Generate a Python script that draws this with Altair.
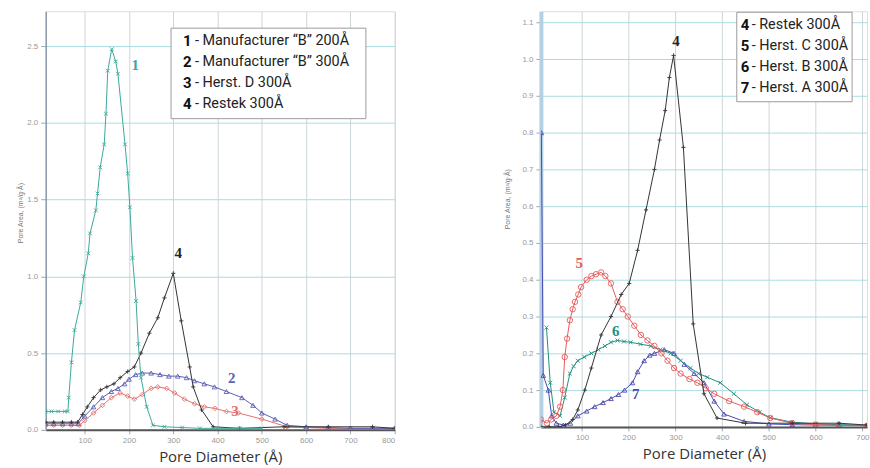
import altair as alt
import pandas as pd

# ---------------- Left panel data (Pore Diameter Å, Pore Area) ----------------
c1_x = [12, 25, 40, 55, 62, 64, 70, 77, 91, 98, 108, 112, 125, 129, 135, 144, 148, 152, 161,
        170, 175, 191, 197, 202, 208, 216, 221, 227, 240, 254, 280, 320, 360, 400, 450, 500]
c1_y = [0.12, 0.12, 0.12, 0.12, 0.12, 0.21, 0.44, 0.65, 0.83, 1.0, 1.15, 1.28, 1.43, 1.54, 1.71,
        1.86, 2.06, 2.34, 2.48, 2.40, 2.32, 1.86, 1.67, 1.45, 1.12, 0.84, 0.56, 0.34, 0.15, 0.03,
        0.02, 0.015, 0.01, 0.01, 0.01, 0.01]

c4L_x = [12, 30, 50, 70, 84, 95, 106, 120, 136, 150, 166, 180, 197, 212, 227, 246, 265, 280,
         300, 318, 337, 345, 364, 390, 450, 550, 650, 750, 800]
c4L_y = [0.05, 0.05, 0.05, 0.05, 0.05, 0.10, 0.15, 0.21, 0.26, 0.28, 0.30, 0.34, 0.38, 0.41,
         0.50, 0.63, 0.73, 0.86, 1.02, 0.71, 0.41, 0.28, 0.13, 0.02, 0.01, 0.02, 0.02, 0.02, 0.01]

c2_x = [12, 30, 50, 70, 85, 100, 120, 140, 160, 175, 190, 200, 215, 230, 250, 270, 290, 310,
        330, 348, 370, 393, 420, 455, 480, 500, 530, 557, 600, 650, 700, 750, 800]
c2_y = [0.04, 0.04, 0.04, 0.04, 0.04, 0.09, 0.15, 0.21, 0.25, 0.27, 0.30, 0.33, 0.36, 0.37,
        0.37, 0.36, 0.35, 0.35, 0.34, 0.32, 0.30, 0.28, 0.25, 0.21, 0.16, 0.11, 0.07, 0.03,
        0.02, 0.015, 0.01, 0.01, 0.01]

c3_x = [12, 30, 50, 70, 88, 100, 120, 140, 160, 180, 197, 212, 230, 250, 265, 285, 303, 325,
        348, 370, 394, 420, 447, 500, 557, 600, 650, 700, 750, 800]
c3_y = [0.03, 0.03, 0.03, 0.03, 0.03, 0.06, 0.11, 0.16, 0.21, 0.24, 0.22, 0.20, 0.23, 0.27,
        0.28, 0.27, 0.24, 0.20, 0.17, 0.15, 0.14, 0.12, 0.11, 0.07, 0.02, 0.015, 0.01, 0.01,
        0.01, 0.01]

# ---------------- Right panel data ----------------
c4R_x = [12, 30, 50, 65, 80, 91, 106, 120, 141, 162, 184, 201, 219, 237, 255, 266, 278, 287,
         296, 317, 338, 361, 389, 450, 550, 650, 710]
c4R_y = [0.0, 0.0, 0.0, 0.005, 0.02, 0.046, 0.10, 0.16, 0.25, 0.30, 0.36, 0.39, 0.48, 0.59,
         0.70, 0.78, 0.86, 0.95, 1.01, 0.76, 0.28, 0.09, 0.024, 0.01, 0.01, 0.01, 0.005]

c5_x = [12, 25, 34, 45, 53, 59, 63, 68, 74, 80, 85, 92, 98, 110, 120, 130, 141, 150, 162, 176,
        187, 198, 212, 226, 240, 255, 270, 283, 297, 311, 330, 347, 365, 383, 415, 447, 475,
        503, 550, 600, 650, 710]
c5_y = [0.02, 0.01, 0.02, 0.03, 0.055, 0.10, 0.19, 0.24, 0.29, 0.32, 0.34, 0.36, 0.38, 0.40,
        0.41, 0.415, 0.42, 0.41, 0.39, 0.34, 0.32, 0.30, 0.275, 0.25, 0.235, 0.22, 0.20, 0.18,
        0.16, 0.145, 0.13, 0.12, 0.105, 0.09, 0.07, 0.055, 0.04, 0.024, 0.01, 0.006, 0.004,
        0.003]

c6_x = [24, 32, 40, 53, 63, 74, 82, 91, 105, 120, 135, 149, 162, 176, 190, 204, 225, 247, 268,
        290, 311, 332, 350, 368, 396, 425, 453, 480, 503, 549, 600, 650, 710]
c6_y = [0.27, 0.12, 0.04, 0.03, 0.08, 0.145, 0.165, 0.18, 0.19, 0.20, 0.21, 0.22, 0.23, 0.235,
        0.232, 0.23, 0.225, 0.22, 0.21, 0.20, 0.18, 0.16, 0.145, 0.135, 0.12, 0.09, 0.06, 0.04,
        0.025, 0.013, 0.008, 0.006, 0.004]

c7_x = [13, 17, 28, 35, 45, 60, 75, 91, 110, 127, 145, 162, 178, 191, 208, 219, 233, 245, 255,
        276, 297, 319, 340, 361, 383, 404, 447, 500, 550, 600, 650, 710]
c7_y = [0.80, 0.14, 0.10, 0.03, 0.01, 0.005, 0.01, 0.03, 0.043, 0.055, 0.066, 0.077, 0.088,
        0.10, 0.12, 0.15, 0.18, 0.195, 0.20, 0.21, 0.20, 0.17, 0.145, 0.12, 0.07, 0.035, 0.015,
        0.008, 0.006, 0.005, 0.005, 0.004]

# curve labels
left_lab_text = ["1", "4", "2", "3"]
left_lab_x = [214, 311, 432, 439]
left_lab_y = [2.38, 1.15, 0.34, 0.12]
left_lab_col = ["#3aa89c", "#222222", "#5b5fb5", "#e8706a"]

right_lab_text = ["4", "5", "6", "7"]
right_lab_x = [301, 94, 172, 215]
right_lab_y = [1.05, 0.446, 0.26, 0.09]
right_lab_col = ["#222222", "#e85a5a", "#1e9080", "#4a4ab0"]

# legends
left_leg_num = ["1", "2", "3", "4"]
left_leg_txt = ["- Manufacturer \u201cB\u201d 200Å", "- Manufacturer \u201cB\u201d 300Å",
                "- Herst. D 300Å", "- Restek 300Å"]
right_leg_num = ["4", "5", "6", "7"]
right_leg_txt = ["- Restek 300Å", "- Herst. C 300Å", "- Herst. B 300Å", "- Herst. A 300Å"]

XTITLE = "Pore Diameter (Å)"
YTITLE = "Pore Area, (m²/g·Å)"
LEGFONT = "Roboto"

XPATH = "M-1,-1L1,1M-1,1L1,-1"
PLUS = "M-1,0L1,0M0,-1L0,1"


def make_encs(xdom, xvals, ydom, yvals, ydomcolor, ydomwidth):
    X = alt.X("d:Q", title=XTITLE,
              scale=alt.Scale(domain=xdom, nice=False, zero=False),
              axis=alt.Axis(values=xvals, grid=True, gridColor="#cdd7db", gridWidth=1,
                            labelFontSize=8, labelColor="#999999", labelPadding=3,
                            tickColor="#9aa", tickSize=4, domainColor="#555555",
                            domainWidth=2, titleFontSize=15, titleFont="Open Sans",
                            titleFontWeight="normal", titleColor="#333333",
                            titlePadding=5, labelFont="Arial"))
    Y = alt.Y("a:Q", title=None,
              scale=alt.Scale(domain=ydom, nice=False, zero=True),
              axis=alt.Axis(values=yvals, format=".1f", grid=True, gridColor="#a9dde2",
                            gridWidth=1, labelFontSize=8, labelColor="#999999",
                            labelPadding=3, tickColor="#9aa", tickSize=5,
                            domainColor=ydomcolor, domainWidth=ydomwidth,
                            minExtent=40, maxExtent=40, labelFont="Arial"))
    return X, Y


def series(X, Y, xs, ys, color, shape, filled=False, size=18, sw=1.0):
    df = pd.DataFrame({"d": xs, "a": ys})
    base = alt.Chart(df)
    line = base.mark_line(color=color, strokeWidth=sw, clip=True).encode(x=X, y=Y)
    pts = base.mark_point(color=color, shape=shape, filled=filled, size=size,
                          strokeWidth=1, opacity=0.9, clip=True).encode(x=X, y=Y)
    return [line, pts]


def labels(X, Y, texts, xs, ys, cols):
    out = []
    for t, x, y, c in zip(texts, xs, ys, cols):
        df = pd.DataFrame({"d": [x], "a": [y], "t": [t]})
        out.append(alt.Chart(df).mark_text(font="Liberation Serif", fontSize=15,
                                           fontWeight="bold", color=c)
                   .encode(x=X, y=Y, text="t:N"))
    return out


def legend(nums, txts, bx, bx2, by, by2, x_num, x_txt, y0, dy):
    out = [alt.Chart(pd.DataFrame({"k": [0]})).mark_rect(
        fill="white", stroke="#9a9a9a", strokeWidth=1).encode(
        x=alt.value(bx), x2=alt.value(bx2), y=alt.value(by), y2=alt.value(by2))]
    for i, (n, t) in enumerate(zip(nums, txts)):
        df = pd.DataFrame({"n": [n], "t": [t]})
        out.append(alt.Chart(df).mark_text(font=LEGFONT, fontSize=15, fontWeight="bold",
                                           align="left", baseline="middle", color="#111")
                   .encode(x=alt.value(x_num), y=alt.value(y0 + i * dy), text="n:N"))
        out.append(alt.Chart(df).mark_text(font=LEGFONT, fontSize=14.5, align="left",
                                           baseline="middle", color="#222")
                   .encode(x=alt.value(x_txt), y=alt.value(y0 + i * dy), text="t:N"))
    return out


def ytitle(xpx, ypx):
    df = pd.DataFrame({"t": [YTITLE]})
    return alt.Chart(df).mark_text(fontSize=7, angle=270, color="#777777", font="Arial",
                                   baseline="middle").encode(
        x=alt.value(xpx), y=alt.value(ypx), text="t:N")


# ---------------- Left panel ----------------
XL, YL = make_encs([12, 800], [100, 200, 300, 400, 500, 600, 700, 800], [0, 2.727],
                   [0.0, 0.5, 1.0, 1.5, 2.0, 2.5], "#8a9aa8", 1.5)
left_layers = []
left_layers += series(XL, YL, c3_x, c3_y, "#e8706a", "diamond", size=22)
left_layers += series(XL, YL, c2_x, c2_y, "#5b5fb5", "triangle-up", size=22)
left_layers += series(XL, YL, c4L_x, c4L_y, "#333333", PLUS, size=18)
left_layers += series(XL, YL, c1_x, c1_y, "#3aa89c", XPATH, size=14)
left_layers += labels(XL, YL, left_lab_text, left_lab_x, left_lab_y, left_lab_col)
left_layers += legend(left_leg_num, left_leg_txt, 126, 322, 17, 108, 138, 150, 30, 21)
left_layers.append(ytitle(-25, 203))
left = alt.layer(*left_layers).properties(width=351, height=421)

# ---------------- Right panel ----------------
XR, YR = make_encs([12, 710], [100, 200, 300, 400, 500, 600, 700], [0, 1.13],
                   [round(0.1 * i, 1) for i in range(12)], "#b4d0e4", 4)
right_layers = []
right_layers += series(XR, YR, c7_x, c7_y, "#4a4ab0", "triangle-up", size=22)
right_layers += series(XR, YR, c6_x, c6_y, "#1e9080", XPATH, size=16)
right_layers += series(XR, YR, c5_x, c5_y, "#e85a5a", "circle", size=30)
right_layers += series(XR, YR, c4R_x, c4R_y, "#333333", PLUS, size=18)
right_layers += labels(XR, YR, right_lab_text, right_lab_x, right_lab_y, right_lab_col)
right_layers += legend(right_leg_num, right_leg_txt, 197, 313, 1, 91, 201, 212, 14, 21)
right_layers.append(ytitle(-33, 189))
right = alt.layer(*right_layers).properties(width=328, height=418)

chart = alt.hconcat(left, right, spacing=147, bounds="flush").properties(
    padding={"left": 5, "top": 9, "right": 0, "bottom": 0}
).configure_view(stroke=None).configure(background="white")

chart.save("out.html", embed_options={"renderer": "svg", "actions": False})
